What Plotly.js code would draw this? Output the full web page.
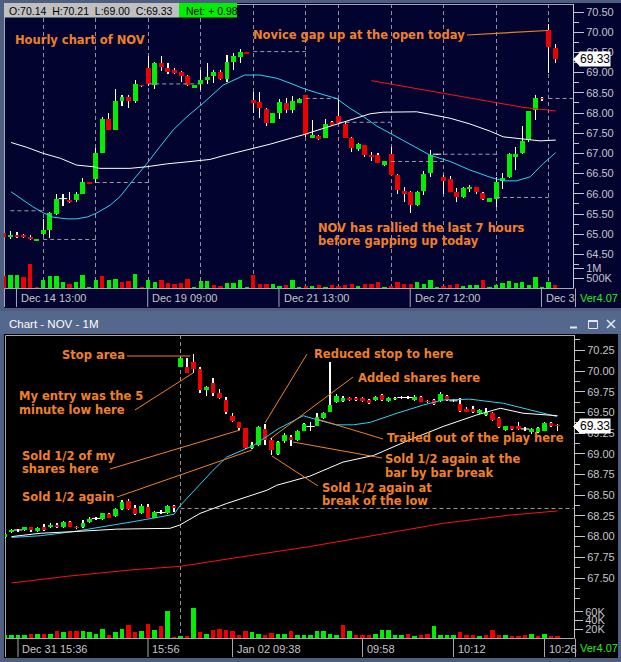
<!DOCTYPE html>
<html><head><meta charset="utf-8">
<script src="https://cdn.plot.ly/plotly-3.0.1.min.js"></script>
<style>html,body{margin:0;padding:0;background:#4e5e7e;}#chart{width:621px;height:662px;}</style>
</head><body><div id="chart"></div>
<script>
// ===== Hourly chart (top) : bar index 0 = Dec 14 13:00 =====
const topStart = -2;
const topO = [65.03,64.93,64.99,64.99,64.93,64.84,65.00,65.10,65.50,65.88,
65.85,65.85,66.00,66.28,66.37,67.02,67.85,67.58,68.30,68.39,
68.30,68.69,69.11,68.69,69.23,69.11,69.06,69.02,68.92,68.63,
68.72,68.82,68.92,69.02,68.83,69.27,69.39,69.51,68.32,68.28,
68.10,67.76,67.99,68.24,68.07,68.26,68.44,67.39,67.43,67.39,
67.78,67.93,67.73,67.39,67.11,67.21,66.96,66.96,66.71,66.99,
66.47,66.06,66.05,65.72,66.07,66.51,66.98,66.42,66.37,66.05,
65.91,66.11,66.16,66.01,65.80,65.86,66.32,66.41,66.92,67.00,
67.33,68.07,68.38,70.05,69.62];
const topH = [65.05,65.07,65.05,65.00,64.99,64.89,65.37,65.55,66.00,66.00,
66.05,66.05,66.38,66.29,67.14,67.89,67.99,68.59,68.45,68.45,
68.82,68.70,69.41,69.26,69.41,69.23,69.12,69.05,68.93,68.70,
69.06,69.25,69.06,69.06,69.44,69.48,69.58,69.52,68.53,68.53,
68.12,68.00,68.34,68.38,68.42,68.36,68.45,67.83,67.45,67.84,
67.79,68.35,67.79,67.40,67.25,67.22,67.04,67.00,66.82,67.17,
66.48,66.18,66.06,66.06,66.57,67.08,66.99,66.47,66.45,66.15,
66.16,66.21,66.17,66.05,65.90,66.42,66.51,67.00,67.17,67.68,
68.06,68.44,68.39,70.20,69.70];
const topL = [64.92,64.89,64.91,64.91,64.86,64.84,64.99,64.90,65.48,65.70,
65.77,65.80,66.00,66.24,66.26,67.00,67.57,67.57,68.17,68.12,
68.24,68.65,68.68,68.59,69.05,68.97,68.96,68.77,68.68,68.62,
68.57,68.71,68.75,68.82,68.77,69.06,69.25,69.46,67.99,67.87,
67.68,67.75,67.85,67.99,68.00,68.25,67.40,67.37,67.34,67.37,
67.69,67.73,67.38,67.04,67.05,66.92,66.80,66.76,66.70,66.46,
66.00,65.80,65.52,65.70,65.97,66.42,66.96,66.00,66.04,65.80,
65.90,66.05,65.99,65.85,65.79,65.67,66.11,66.40,66.59,66.98,
67.28,67.83,68.30,69.00,69.25];
const topC = [64.94,64.99,64.94,64.94,64.87,64.88,65.10,65.52,65.87,65.88,
65.80,66.00,66.28,66.25,67.00,67.85,67.58,68.30,68.39,68.30,
68.72,68.66,68.72,69.23,69.13,69.02,68.99,68.92,68.69,68.69,
68.82,68.90,69.02,68.83,69.27,69.42,69.51,69.47,68.26,68.13,
67.76,67.99,68.27,68.07,68.30,68.35,67.46,67.46,67.35,67.74,
67.70,67.75,67.39,67.13,67.23,66.96,66.91,66.77,66.81,66.47,
66.09,66.00,65.72,66.05,66.49,66.96,66.98,66.32,66.05,65.91,
66.15,66.16,66.05,65.86,65.89,66.28,66.38,66.99,66.99,67.31,
68.05,68.36,68.35,69.63,69.33];
const topVol = [615,665,665,535,1215,50,380,580,615,315,
215,315,665,35,415,615,415,465,315,365,
715,35,415,315,415,265,215,265,465,35,
365,365,165,115,265,265,415,35,665,215,
215,215,115,165,415,35,115,115,165,65,
130,115,130,215,115,215,215,315,35,115,
315,215,215,280,215,415,35,115,165,215,
115,130,130,415,35,165,265,365,265,315,
165,535,35,315,165];
const topVolDir = ('rggrrrgggg'+'rggggrggr'+'r'+'grggrrrrrg'+'ggrrggggrr'+'rggrggrgrg'+'rrrrgrrrgr'+'rrrggggrrr'+'gggrgggggg'+'ggggr').split('');
const topCyanX = [-0.9,0.5,2.4,4.0,5.5,7.6,9.1,10.8,12.2,14.2,15.7,17.7,19.8,21.8,23.8,25.9,28.2,31.4,34.7,37.0,39.6,41.6,43.6,45.7,48.7,50.7,52.8,54.8,56.8,59.9,62.9,66.0,69.0,72.1,74.1,76.1,78.2,80.2,82.1];
const topCyanY = [66.05,65.89,65.68,65.53,65.42,65.38,65.38,65.43,65.53,65.72,65.93,66.34,66.75,67.17,67.58,67.91,68.22,68.69,68.94,68.94,68.86,68.74,68.61,68.50,68.36,68.12,67.91,67.68,67.50,67.21,66.96,66.80,66.59,66.41,66.32,66.32,66.42,66.75,67.02];
const topWhiteX = [-0.9,1.5,4.0,6.6,9.1,11.6,12.6,17.2,19.8,22.8,25.9,29.4,31.4,35.5,38.6,41.6,43.6,46.7,49.7,51.8,53.8,55.8,60.9,62.9,66.0,69.0,72.1,74.1,77.2,79.7,82.1];
const topWhiteY = [67.27,67.15,67.00,66.88,66.71,66.67,66.63,66.63,66.67,66.74,66.79,66.85,66.94,67.10,67.23,67.37,67.46,67.62,67.78,67.89,67.98,68.02,68.03,67.97,67.87,67.73,67.55,67.41,67.35,67.31,67.33];
const topRedX = [54.0,56.8,61.9,67.0,72.1,77.1,82.1];
const topRedY = [68.80,68.72,68.57,68.42,68.28,68.14,68.05];
const topRefStart = [-1,4,12,20,36,44,49,57,65,73,81];
const topRefEnd   = [4,12,20,28,44,49,57,65,73,81,84.7];
const topRefVal   = [65.58,64.87,66.28,68.72,69.52,68.36,67.77,66.80,66.98,65.91,68.36];
const topDayStarts = [4,12,20,28,36,44,49,57,65,73,81];
const topLabelIdx = [0,20,40,60,80];
const topLabels = ['Dec 14 13:00','Dec 19 09:00','Dec 21 13:00','Dec 27 12:00','Dec 3'];
const topPriceTicks = [64.5,65,65.5,66,66.5,67,67.5,68,68.5,69,69.5,70,70.5];
const topVolTicks = [500,1000];
const topVolTickText = ['500K','1M'];
const headerText = ['O:70.14','H:70.21','L:69.00','C:69.33'];
const netText = 'Net: + 0.98';

// ===== 1-minute chart (bottom) : bar index 0 = Dec 31 15:36 =====
const botStart = -2;
const botO = [67.99,68.05,68.08,68.08,68.11,68.07,68.12,68.11,68.14,68.11,
68.18,68.12,68.11,68.18,68.22,68.21,68.27,68.25,68.33,68.43,
68.34,68.28,68.36,68.23,68.29,68.28,68.37,70.05,70.05,70.11,
70.02,69.77,69.86,69.74,69.65,69.46,69.38,69.31,69.07,69.11,
69.30,69.17,69.00,69.15,69.20,69.17,69.28,69.33,69.34,69.43,
69.50,69.62,69.64,69.68,69.68,69.68,69.65,69.65,69.71,69.64,
69.66,69.68,69.68,69.65,69.69,69.64,69.65,69.64,69.70,69.64,
69.60,69.54,69.54,69.49,69.47,69.49,69.43,69.29,69.33,69.34,
69.30,69.26,69.26,69.28,69.37,69.35];
const botH = [68.04,68.09,68.09,68.12,68.12,68.11,68.15,68.16,68.16,68.19,
68.19,68.13,68.20,68.24,68.24,68.29,68.29,68.34,68.44,68.45,
68.38,68.39,68.39,68.31,68.32,68.38,68.38,70.17,70.16,70.21,
70.05,69.82,69.91,69.78,69.69,69.49,69.39,69.31,69.14,69.34,
69.36,69.19,69.15,69.25,69.23,69.29,69.37,69.38,69.49,69.50,
70.11,69.72,69.70,69.69,69.69,69.69,69.66,69.70,69.72,69.69,
69.69,69.70,69.70,69.71,69.70,69.65,69.66,69.75,69.71,69.66,
69.67,69.56,69.58,69.54,69.55,69.50,69.44,69.34,69.34,69.38,
69.32,69.31,69.32,69.38,69.38,69.36];
const botL = [67.98,68.04,68.06,68.07,68.06,68.06,68.07,68.10,68.10,68.10,
68.11,68.09,68.10,68.17,68.20,68.20,68.22,68.24,68.32,68.32,
68.26,68.27,68.22,68.22,68.27,68.27,68.30,70.05,69.98,69.97,
69.74,69.70,69.70,69.66,69.48,69.38,69.29,69.06,69.06,69.10,
69.11,68.99,68.99,69.13,69.09,69.16,69.27,69.28,69.33,69.42,
69.50,69.61,69.63,69.64,69.64,69.63,69.60,69.64,69.64,69.63,
69.65,69.66,69.66,69.64,69.62,69.61,69.59,69.63,69.64,69.62,
69.51,69.50,69.49,69.48,69.46,69.40,69.31,69.28,69.29,69.29,
69.28,69.24,69.25,69.27,69.32,69.27];
const botC = [68.03,68.08,68.08,68.11,68.08,68.10,68.08,68.14,68.11,68.18,
68.12,68.10,68.17,68.21,68.22,68.28,68.23,68.33,68.42,68.33,
68.27,68.37,68.23,68.30,68.29,68.37,68.34,70.16,69.98,70.02,
69.77,69.81,69.74,69.68,69.50,69.40,69.31,69.07,69.11,69.32,
69.17,69.05,69.14,69.23,69.17,69.28,69.36,69.33,69.44,69.49,
69.59,69.70,69.68,69.65,69.65,69.64,69.61,69.69,69.65,69.68,
69.68,69.68,69.68,69.69,69.63,69.62,69.60,69.72,69.65,69.64,
69.52,69.51,69.50,69.53,69.51,69.41,69.32,69.33,69.30,69.30,
69.30,69.30,69.31,69.37,69.34,69.33];
const botVol = [6,6,8,6,10,10,10,10,15,13,
15,15,15,13,10,21,6,13,21,31,
13,17,33,19,27,63,2,4,4,70,
13,10,19,21,19,17,8,15,13,10,
6,12,10,10,17,8,8,8,15,17,
10,6,30,17,8,6,8,10,19,19,
8,6,10,4,8,10,27,6,6,6,
13,8,6,4,6,19,8,6,4,4,
6,10,4,10,4,4];
const botVolDir = ('ggggrgrgrg'+'rrggggrggr'+'rgrgrgrgrg'+'rgrrrrrrgg'+'rrggrggggg'+'ggrgrrrggg'+'ggrgrrgggg'+'rrrgrrrgrr'+'rgrgrr').split('');
const botCyanX = [-1.0,3.4,8.5,12.6,17.7,21.3,24.0,24.9,27.2,30.0,32.1,36.2,40.0,43.9,46.0,49.0,51.6,54.2,58.3,62.4,65.4,69.5,74.7,78.8,82.9];
const botCyanY = [67.99,68.01,68.06,68.11,68.18,68.23,68.27,68.37,68.56,68.80,68.96,69.10,69.30,69.46,69.41,69.35,69.35,69.38,69.49,69.59,69.65,69.66,69.61,69.53,69.45];
const botWhiteX = [-1.0,3.4,8.5,15.2,23.4,24.9,28.0,32.1,38.3,39.8,44.9,50.0,54.7,60.3,65.4,70.6,74.2,77.7,83.0];
const botWhiteY = [68.00,68.04,68.06,68.09,68.10,68.14,68.28,68.40,68.56,68.62,68.73,68.90,68.98,69.17,69.33,69.47,69.55,69.49,69.46];
const botRedX = [-1.0,7.5,17.7,24.9,33.1,44.9,55.2,65.4,75.7,83.0];
const botRedY = [67.44,67.52,67.60,67.64,67.74,67.88,68.02,68.16,68.26,68.31];
const botRefStart = [25];
const botRefEnd = [85.5];
const botRefVal = [68.34];
const botDayStarts = [25];
const botLabelIdx = [0,20,33,53,67,81];
const botLabels = ['Dec 31 15:36','15:56','Jan 02 09:38','09:58','10:12','10:26'];
const botPriceTicks = [67.5,67.75,68,68.25,68.5,68.75,69,69.25,69.5,69.75,70,70.25];
const botVolTicks = [20,40,60];
const botVolTickText = ['20K','40K','60K'];

// ===== drawing =====
const W = 621, H = 662;
const px = x => x / W;
const py = y => 1 - y / H;
const GREEN = '#00ee00', RED = '#ee0000';
const ORANGE = '#f08028';
const AXC = '#c4c4cc';
const NAVY = '#03032f';

function indexArr(start, n){ const a = []; for (let k = 0; k < n; k++) a.push(start + k); return a; }
const topX = indexArr(topStart, topO.length);
const botX = indexArr(botStart, botO.length);

function candles(X, O, Hi, L, C, xa, ya, bodyW, wickW){
  const wick = {type:'bar', x:X, base:L, y:Hi.map((h,k)=>h-L[k]), width:wickW,
    marker:{color:'#ffffff', line:{width:0}}, xaxis:xa, yaxis:ya, hoverinfo:'skip'};
  const body = {type:'bar', x:X, base:O.map((o,k)=>Math.min(o,C[k])), y:O.map((o,k)=>Math.abs(C[k]-o)),
    width:bodyW, marker:{color:O.map((o,k)=>C[k]>=o?GREEN:RED), line:{width:0}}, xaxis:xa, yaxis:ya, hoverinfo:'skip'};
  const dx = [], dy = [];
  O.forEach((o,k)=>{ if (Math.abs(C[k]-o) < 0.005){ dx.push(X[k]); dy.push(C[k]); } });
  const doji = {type:'scatter', mode:'markers', x:dx, y:dy, xaxis:xa, yaxis:ya, hoverinfo:'skip',
    marker:{symbol:'line-ew', size:6, color:'#ffffff', line:{color:'#ffffff', width:1}}};
  return [wick, body, doji];
}
function line(X, Y, color, xa, ya){
  return {type:'scatter', mode:'lines', x:X, y:Y, xaxis:xa, yaxis:ya, hoverinfo:'skip', line:{color:color, width:1}};
}
function refLines(S, E, V, xa, ya){
  const x = [], y = [];
  S.forEach((s,k)=>{ x.push(s, E[k], null); y.push(V[k], V[k], null); });
  return {type:'scatter', mode:'lines', x:x, y:y, xaxis:xa, yaxis:ya, hoverinfo:'skip',
    line:{color:'#9c9cac', width:1, dash:'4px,3px'}};
}

const traces = [];
traces.push({type:'bar', x:topX, y:topVol, width:0.66, xaxis:'x', yaxis:'y2', hoverinfo:'skip',
  marker:{color:topVolDir.map(d=>d==='g'?GREEN:RED), line:{width:0}}});
traces.push(refLines(topRefStart, topRefEnd, topRefVal, 'x', 'y'));
traces.push(...candles(topX, topO, topH, topL, topC, 'x', 'y', 0.76, 0.17));
traces.push(line(topCyanX, topCyanY, '#2fd2f2', 'x', 'y'));
traces.push(line(topWhiteX, topWhiteY, '#ffffff', 'x', 'y'));
traces.push(line(topRedX, topRedY, '#ff1010', 'x', 'y'));

traces.push({type:'bar', x:botX, y:botVol, width:0.62, xaxis:'x2', yaxis:'y4', hoverinfo:'skip',
  marker:{color:botVolDir.map(d=>d==='g'?GREEN:RED), line:{width:0}}});
traces.push(refLines(botRefStart, botRefEnd, botRefVal, 'x2', 'y3'));
traces.push(...candles(botX, botO, botH, botL, botC, 'x2', 'y3', 0.72, 0.17));
traces.push(line(botCyanX, botCyanY, '#2fd2f2', 'x2', 'y3'));
traces.push(line(botWhiteX, botWhiteY, '#ffffff', 'x2', 'y3'));
traces.push(line(botRedX, botRedY, '#ff1010', 'x2', 'y3'));

// axis calibration (pixels)
const topBarPx = 6.5625, topBar0 = 17;   // px per bar, x of index 0
const topPxPerDollar = 40.4, topRefY = 12, topRefP = 70.5;
const botBarPx = 6.5, botBar0 = 18;
const botPxPerDollar = 82.8, botRefY = 371, botRefP = 70.0;

function minorVals(lo, hi, step){ const a=[]; for(let v=lo; v<=hi+1e-9; v+=step) a.push(+v.toFixed(4)); return a; }
const tickFont = {family:'Liberation Sans, Arial, sans-serif', size:11, color:AXC};

const priceAxis = (dom, range, pos, ticks, minor) => ({
  domain:dom, range:range, side:'right', anchor:'free', position:pos,
  tickmode:'array', tickvals:ticks, ticktext:ticks.map(v=>v.toFixed(2)),
  ticks:'outside', ticklen:10, tickwidth:1, tickcolor:AXC, tickfont:tickFont,
  minor:{tickmode:'array', tickvals:minor, ticks:'outside', ticklen:5, tickcolor:AXC, tickwidth:1},
  showline:true, linecolor:AXC, linewidth:1, showgrid:false, zeroline:false, fixedrange:true
});

const layout = {
  width:W, height:H, margin:{l:0,r:0,t:0,b:0,pad:0},
  paper_bgcolor:'#4e5e7e', plot_bgcolor:'rgba(0,0,0,0)',
  showlegend:false, hovermode:false, barmode:'overlay', bargap:0,
  xaxis:{domain:[px(4),px(573)], range:[(4-topBar0)/topBarPx, (573-topBar0)/topBarPx], anchor:'y',
    tickmode:'array', tickvals:topDayStarts, showticklabels:false, ticks:'',
    showgrid:true, gridcolor:'#9090a4', gridwidth:1, griddash:'4px,3px', zeroline:false, showline:false, fixedrange:true},
  yaxis: priceAxis([py(288),py(4)], [topRefP-(288-topRefY)/topPxPerDollar, topRefP+(topRefY-4)/topPxPerDollar], px(573),
    topPriceTicks, minorVals(64.25, 70.25, 0.5)),
  yaxis2:{overlaying:'y', range:[0,(288-4)*50], side:'right', anchor:'free', position:px(573),
    tickmode:'array', tickvals:topVolTicks, ticktext:topVolTickText, ticks:'outside', ticklen:10, tickcolor:AXC,
    tickfont:tickFont, showgrid:false, zeroline:false, showline:false, fixedrange:true},
  xaxis2:{domain:[px(5),px(574)], range:[(5-botBar0)/botBarPx, (574-botBar0)/botBarPx], anchor:'y3',
    tickmode:'array', tickvals:botDayStarts, showticklabels:false, ticks:'',
    showgrid:true, gridcolor:'#9090a0', gridwidth:1, griddash:'4px,3px', zeroline:false, showline:false, fixedrange:true},
  yaxis3: priceAxis([py(638),py(335)], [botRefP-(638-botRefY)/botPxPerDollar, botRefP+(botRefY-335)/botPxPerDollar], px(574),
    botPriceTicks, [67.25].concat(minorVals(67.375, 70.375, 0.25))),
  yaxis4:{overlaying:'y3', range:[0,(638-335)*2.3], side:'right', anchor:'free', position:px(574),
    tickmode:'array', tickvals:botVolTicks, ticktext:botVolTickText, ticks:'outside', ticklen:8, tickcolor:AXC,
    tickfont:tickFont, showgrid:false, zeroline:false, showline:false, fixedrange:true},
  shapes:[], annotations:[]
};

const S = layout.shapes, A = layout.annotations;
function rect(x0,y0,x1,y1,fill,lineColor,layer){
  S.push({type:'rect', xref:'paper', yref:'paper', x0:px(x0), x1:px(x1), y0:py(y1), y1:py(y0),
    fillcolor:fill||'rgba(0,0,0,0)', line:{color:lineColor||'rgba(0,0,0,0)', width:lineColor?1:0}, layer:layer||'below'});
}
function seg(x0,y0,x1,y1,color,w,layer){
  S.push({type:'line', xref:'paper', yref:'paper', x0:px(x0), y0:py(y0), x1:px(x1), y1:py(y1),
    line:{color:color, width:w||1}, layer:layer||'above'});
}
function text(x,y,s,font,anchor){
  A.push({xref:'paper', yref:'paper', x:px(x), y:py(y), xanchor:anchor||'left', yanchor:'middle',
    text:s, showarrow:false, font:font});
}
// panel backgrounds
rect(4,3,621,308,NAVY);
rect(0,311,621,334,'#54678d');
rect(4,334,618,658,'#000000');
// plot borders
rect(4.5,4.5,573.5,288.5,null,'#a8a8b8');
rect(5.5,335.5,574.5,638.5,null,'#a8a8b0');
seg(4.5,288.5,4.5,307,'#a8a8b8',1);
seg(575.5,288.5,575.5,307,'#a8a8b8',1);
seg(5.5,638.5,5.5,657,'#a8a8b0',1);
seg(575.5,638.5,575.5,657,'#a8a8b0',1);
// x label separators + labels
const lblFont = {family:'Liberation Sans, Arial, sans-serif', size:11, color:AXC};
topLabelIdx.forEach((ix,k)=>{
  S.push({type:'line', xref:'x', yref:'paper', x0:ix-0.08, x1:ix-0.08, y0:py(289), y1:py(307), line:{color:'#a8a8b8', width:1}});
  A.push({xref:'x', yref:'paper', x:ix, y:py(298), xanchor:'left', yanchor:'middle', xshift:2, text:topLabels[k], showarrow:false, font:lblFont});
});
botLabelIdx.forEach((ix,k)=>{
  S.push({type:'line', xref:'x2', yref:'paper', x0:ix, x1:ix, y0:py(639), y1:py(657), line:{color:'#a8a8b0', width:1}});
  A.push({xref:'x2', yref:'paper', x:ix, y:py(649), xanchor:'left', yanchor:'middle', xshift:2, text:botLabels[k], showarrow:false, font:lblFont});
});
// header boxes
rect(4,3,179,17.5,'#c0c0c0',null,'above');
rect(179,3,237,17.5,'#00f000',null,'above');
const hdrFont = {family:'Liberation Sans, Arial, sans-serif', size:10.5, color:'#000000'};
text(7, 10.5, headerText.join('\u00a0\u00a0'), hdrFont);
text(184, 10.5, netText, hdrFont);
// title bar bottom panel
text(7, 324, 'Chart - NOV - 1M', {family:'Liberation Sans, Arial, sans-serif', size:11.5, color:'#ffffff'});
seg(570,327.5,577,327.5,'#e4e8f2',2);
rect(588.5,320.5,597.5,328.5,null,'#e4e8f2','above');
seg(588.5,321,597.5,321,'#e4e8f2',2);
seg(607,320,615,328,'#e4e8f2',1.6);
seg(615,320,607,328,'#e4e8f2',1.6);
// version
const verFont = {family:'Liberation Sans, Arial, sans-serif', size:11, color:'#22ee22'};
text(578, 298, 'Ver4.07', verFont);
text(578, 648, 'Ver4.07', verFont);
// last price tags
function tag(yref, price, dpx, pxPerDollar){
  const d = dpx/pxPerDollar;
  S.push({type:'path', xref:'paper', yref:yref, path:`M ${px(573.5)} ${price} L ${px(580)} ${price+d} L ${px(580)} ${price-d} Z`,
    fillcolor:'#ffffff', line:{color:'#ffffff', width:1}, layer:'above'});
  A.push({xref:'paper', yref:yref, x:px(579), y:price, xanchor:'left', yanchor:'middle', text:price.toFixed(2),
    showarrow:false, bgcolor:'#ffffff', borderpad:0, font:{family:'Liberation Sans, Arial, sans-serif', size:12, color:'#000000'}});
}
tag('y', topC[topC.length-1], 6.5, topPxPerDollar);
tag('y3', topC[topC.length-1], 6.5, botPxPerDollar);

// orange commentary
const noteFont = {family:'DejaVu Sans, Verdana, sans-serif', size:11.5, color:ORANGE, weight:'bold'};
text(13, 40, 'Hourly chart of NOV', noteFont);
text(251, 35, 'Novice gap up at the open today', noteFont);
text(316, 228, 'NOV has rallied the last 7 hours', noteFont);
text(316, 241, 'before gapping up today', noteFont);
seg(467,35,548,30.5,ORANGE,1.2);

text(60, 355, 'Stop area', noteFont);
text(17, 396, 'My entry was the 5', noteFont);
text(17, 409.5, 'minute low here', noteFont);
text(20, 456.5, 'Sold 1/2 of my', noteFont);
text(20, 469, 'shares here', noteFont);
text(20, 497, 'Sold 1/2 again', noteFont);
text(312, 354, 'Reduced stop to here', noteFont);
text(356, 377.5, 'Added shares here', noteFont);
text(385, 438.5, 'Trailed out of the play here', noteFont);
text(383, 459, 'Sold 1/2 again at the', noteFont);
text(383, 472.5, 'bar by bar break', noteFont);
text(320, 488, 'Sold 1/2 again at', noteFont);
text(320, 501, 'break of the low', noteFont);
seg(127,356,190,356,ORANGE,1);
seg(135,410,193,373,ORANGE,1);
seg(110,469,240,430,ORANGE,1);
seg(117,497,252,450,ORANGE,1);
seg(265,423,307,354,ORANGE,1);
seg(270,439,353,377,ORANGE,1);
seg(317,419,383,439,ORANGE,1);
seg(293,442,382,458,ORANGE,1);
seg(272,456,318,486,ORANGE,1);

Plotly.newPlot('chart', traces, layout, {staticPlot:true, displayModeBar:false});
</script></body></html>
